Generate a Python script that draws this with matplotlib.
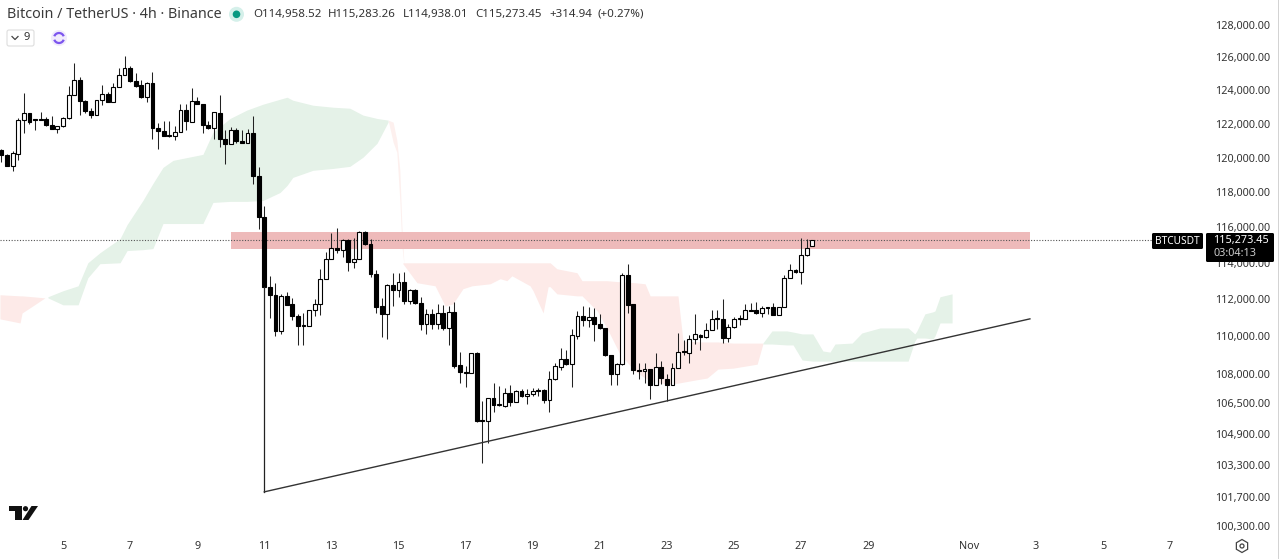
import matplotlib
matplotlib.use('Agg')
import matplotlib.pyplot as plt
from matplotlib.patches import Circle, Polygon, FancyBboxPatch, RegularPolygon, Arc
import numpy as np

plt.rcParams['font.family'] = ['Noto Sans', 'DejaVu Sans']

# 4h candles, first one is Oct 3 ~04:00
opens = [120470,120180,119500,120230,122210,122610,122250,122290,122290,121910,
         121690,121850,122310,123700,124620,123360,122740,122510,123440,123770,
         123300,124170,124900,125360,124560,124300,123600,124410,121750,121570,
         121310,121270,121510,122810,122110,123360,123200,121950,121770,122650,
         121080,120820,121610,120960,120860,121470,118930,116570,112690,112250,
         110290,112190,111750,111100,110560,110560,111430,111750,113130,114240,
         114850,114740,115300,114070,114240,115760,115080,113400,111640,111210,
         112800,112520,112960,111920,112520,111810,110670,111210,110670,111260,
         110450,111320,108470,108100,108050,109110,105590,105540,106740,106370,
         106320,107000,106530,107100,106840,106950,107150,107150,106630,107730,
         108370,108790,108520,110020,111100,110880,111050,110670,110450,109000,
         107990,108520,113350,111750,108210,108150,108260,107420,108370,107730,
         107420,108310,109220,109110,109860,110070,109970,110340,110990,110940,
         109910,110510,110940,110940,111430,111430,111260,111590,111590,111150,
         111590,113180,113630,113510,114460,114958.52]
highs = [120530,120230,120390,122310,123850,122650,122250,122710,122410,122450,
         121850,122370,124250,125670,124780,123400,122910,123440,124310,123910,
         124410,125360,126100,125470,125020,124620,124510,125080,122050,122170,
         122170,121850,123160,123200,124110,123600,123200,122170,122710,123700,
         121610,121810,121770,121630,121710,122480,119450,117180,113290,112900,
         112300,112410,112080,111210,111260,111430,112030,113680,114630,115700,
         115930,115360,115360,115420,115810,115810,115360,113630,112080,112850,
         113460,113460,113510,112580,112580,112140,111480,111480,111750,111700,
         111640,111860,109160,108420,109110,109160,106580,106740,107520,107360,
         107260,107420,107150,107210,107210,107260,107260,107210,108150,108580,
         109380,109270,110400,111370,111640,111590,111530,111210,110450,109000,
         108580,113460,113960,111750,108580,108580,108260,109110,108680,107990,
         108580,110180,109810,110070,111210,110130,110720,111430,111430,112030,
         110670,111050,111150,111750,111810,111860,111640,111590,111810,111590,
         113350,113960,113680,115420,115360,115283.26]
lows = [119740,119500,119200,119840,121450,121970,121630,122210,121850,121670,
        121450,121810,122250,123700,122510,122640,122310,122510,123100,123300,
        123300,124170,124900,124510,124170,123560,123300,121120,120530,121250,
        121210,121020,121510,121630,122110,123200,121470,121710,121120,120620,
        119640,120820,120860,120860,120860,118440,115910,112690,110990,110020,
        110130,111700,110880,109540,109540,110560,111100,111150,113130,114240,
        114570,114350,113570,113740,114240,115020,113240,111260,109970,109860,
        111640,112140,111750,111750,111750,110340,110130,110400,110400,110340,
        109540,108310,107520,107310,108050,105490,103400,104420,106010,106320,
        106270,106320,106530,106790,106420,106840,106840,106480,106010,107680,
        108210,108470,107310,109860,110560,110510,109750,110400,108950,107420,
        107420,108470,111260,107990,107730,107520,106680,107420,107470,106580,
        107420,108310,109000,108580,109590,109270,109910,110340,110400,109640,
        109700,110450,110610,110940,111370,111210,111050,111210,111150,111150,
        111590,113180,113460,112850,114410,114938.01]
closes = [120130,119500,120270,122210,122610,122110,122190,122210,121910,121670,
          121850,122310,123700,124620,123360,122740,122510,123440,123750,123300,
          124170,124900,125360,124560,124250,123600,124410,121750,121570,121250,
          121250,121510,122810,122150,123360,123200,121950,121770,122670,121080,
          120820,121610,120960,120860,121470,118930,116570,112690,112250,110290,
          112190,111700,111100,110560,110610,111430,111750,113130,114240,114850,
          114740,115300,114070,114240,115760,115080,113400,111590,111210,112800,
          112520,112960,111920,112520,111810,110670,111210,110670,111260,110450,
          111320,108420,108100,108050,109110,105540,105540,106740,106370,106420,
          107000,106530,107100,106840,106950,107100,107100,106630,107730,108420,
          108790,108520,110070,111100,110880,111050,110670,110450,109000,107990,
          108520,113350,111700,108210,108150,108260,107420,108370,107790,107420,
          108310,109160,109160,109860,110130,109970,110340,110940,110940,109910,
          110510,110940,110990,111430,111370,111260,111530,111530,111150,111590,
          113180,113630,113510,114460,114850,115273.45]
first_day = 11 - 47 / 6.0   # bar 47 opens Oct 11 00:00
last_price = 115273.45

# ichimoku cloud pieces, x in October days
red1_x = [3.12,3.72,3.78,4.10,4.46]
red1_top = [112250,112190,112190,112140,112080]
red1_bot = [110940,110720,111260,111640,112080]

green1_x = [4.55,5.00,5.45,5.74,6.10,6.70,6.91,7.38,7.68,7.98,8.28,9.17,9.47,9.98,
            10.48,10.96,11.47,11.68,11.85,12.45,13.05,13.55,13.94,14.36,14.69]
green1_top = [112140,112470,112740,114010,114570,115360,116150,117520,118500,119430,119840,120190,121490,122310,
              122810,123160,123460,123580,123400,123100,122980,122920,122510,122310,122210]
green1_bot = [112080,111700,111700,113180,113960,114010,114690,114740,114800,116210,116210,116210,117410,117470,
              117470,117520,117980,118390,118850,119260,119370,119490,120020,120840,122090]

sliver_x = [14.69,14.84,14.95,15.04,15.10,15.16]
sliver_top = [122210,122090,121020,119260,116090,114010]
sliver_bot = [122210,120900,120310,117520,114970,113960]

red2_x = [15.13,15.55,16.09,16.39,16.62,16.92,17.19,17.73,18.03,18.23,18.38,18.92,19.01,19.31,19.46,19.52,19.72,
          20.32,20.47,20.92,21.21,21.60,22.05,22.35,22.50,23.03,23.33,23.48,23.99,24.20,24.52,24.97,25.69,25.86]
red2_top = [114010,114010,114010,114010,114010,114010,114010,114010,114010,114010,114010,114010,114010,114010,114010,114010,113680,
            113460,113020,113020,113020,112960,112910,112850,112190,112190,112190,109750,109700,109700,109700,109640,109640,109640]
red2_bot = [113960,112910,112740,111640,111750,112580,112740,112850,113130,113020,113290,112740,112470,111260,112690,112690,112300,
            112190,112190,111370,110450,109050,108150,107790,107630,107470,107520,107570,107730,107790,108260,108310,108520,109590]

green2_x = [25.86,26.13,26.58,26.76,27.03,27.35,27.65,27.86,28.01,28.52,28.81,29.35,30.19,30.39,30.45,30.69,30.93,30.99,31.14,31.50]
green2_top = [109640,110290,110290,110230,110130,110130,109220,109160,109590,109640,110180,110450,110450,110130,110290,111210,111320,111370,112140,112300]
green2_bot = [109590,109590,109540,109540,108740,108680,108680,108680,108680,108680,108680,108680,108680,109750,109910,109910,109860,110020,110720,110720]

# resistance zone and the drawn lines
zone_days = [10.01, 33.82]
zone_low, zone_high = 114800, 115750
drop_x = [11.0, 11.0]
drop_y = [112690, 101980]
trend_x = [11.0, 33.82]
trend_y = [101980, 110940]

price_ticks = [128000,126000,124000,122000,120000,118000,116000,114000,112000,110000,108000,106500,104900,103300,101700,100300]
day_ticks = [5,7,9,11,13,15,17,19,21,23,25,27,29,32,34,36,38]
day_labels = ['5','7','9','11','13','15','17','19','21','23','25','27','29','Nov','3','5','7']

W, H = 1279, 559
fig = plt.figure(figsize=(W/100.0, H/100.0), dpi=100)
ax = fig.add_axes([0, 24.0/H, 1210.0/W, 535.0/H])
ax.set_yscale('log')
ax.set_xlim(3.122, 3.122 + 1210/33.55)
ax.set_ylim(99860, 129570)
for s in ax.spines.values():
    s.set_visible(False)

ax.fill_between(red1_x, red1_bot, red1_top, color='#fdeae8', lw=0, zorder=1)
ax.fill_between(green1_x, green1_bot, green1_top, color='#e5f2e8', lw=0, zorder=1)
ax.fill_between(sliver_x, sliver_bot, sliver_top, color='#fdf0ee', lw=0, zorder=1)
ax.fill_between(red2_x, red2_bot, red2_top, color='#fdeae8', lw=0, zorder=1)
ax.fill_between(green2_x, green2_bot, green2_top, color='#e5f2e8', lw=0, zorder=1)
ax.fill_between(zone_days, zone_low, zone_high, color='#eebaba', lw=0, zorder=2)

ax.hlines(last_price, 3.122, 37.45, color='#555555', lw=0.8, linestyles=(0, (1, 1.5)), zorder=3)

days = first_day + np.arange(len(opens)) / 6.0
o = np.array(opens)
c = np.array(closes)
up = c >= o
ax.vlines(days, lows, highs, color='#222222', lw=0.75, zorder=4)
ax.bar(days, np.abs(c - o), bottom=np.minimum(o, c), width=0.115,
       color=['white' if u else 'black' for u in up], edgecolor='black', lw=0.8, zorder=5)

ax.plot(drop_x, drop_y, color='#222222', lw=0.9, zorder=6)
ax.plot(trend_x, trend_y, color='#333333', lw=1.0, zorder=6)

ax.yaxis.tick_right()
ax.set_yticks(price_ticks)
ax.set_yticklabels(['{:,.2f}'.format(p) for p in price_ticks])
ax.minorticks_off()
ax.set_xticks(day_ticks)
ax.set_xticklabels(day_labels)
ax.tick_params(axis='y', length=0, pad=4, labelsize=7.8, labelcolor='#333333')
ax.tick_params(axis='x', length=0, pad=4, labelsize=7.8, labelcolor='#333333')

# overlay in pixels for the TradingView furniture
ov = fig.add_axes([0, 0, 1, 1])
ov.set_xlim(0, W)
ov.set_ylim(H, 0)
ov.axis('off')
ov.patch.set_alpha(0)

ov.text(7, 14, 'Bitcoin / TetherUS · 4h · Binance', fontsize=10.3, color='#3a3a3a', va='center')
ov.add_patch(Circle((236.5, 14.3), 7.5, color='#d5f0ea', lw=0))
ov.add_patch(Circle((236.5, 14.3), 3.8, color='#089981', lw=0))
for x, s in [(253, 'O114,958.52'), (328, 'H115,283.26'), (402.5, 'L114,938.01'),
             (475, 'C115,273.45'), (549, '+314.94'), (597, '(+0.27%)')]:
    ov.text(x, 14.5, s, fontsize=8.3, color='#333333', va='center')

ov.add_patch(FancyBboxPatch((7, 30), 27, 16, boxstyle='round,pad=0,rounding_size=2',
                            fc='white', ec='#dddddd', lw=0.8))
ov.plot([12, 15, 18], [36.5, 39.5, 36.5], color='#444444', lw=0.9)
ov.text(27, 38, '9', fontsize=8, color='#333333', ha='center', va='center')
ov.add_patch(Circle((59, 38), 8, color='#f1ebfc', lw=0))
ov.add_patch(Arc((59, 38), 10, 10, theta1=20, theta2=160, ec='#7c55ee', lw=1.6))
ov.add_patch(Arc((59, 38), 10, 10, theta1=200, theta2=340, ec='#7c55ee', lw=1.6))

# price tag and countdown
ov.add_patch(FancyBboxPatch((1152, 233), 51, 16, boxstyle='round,pad=0,rounding_size=1.5', fc='black', ec='none'))
ov.text(1177.5, 241, 'BTCUSDT', fontsize=7.3, color='white', ha='center', va='center', fontweight='bold')
ov.add_patch(FancyBboxPatch((1206, 233), 68, 29, boxstyle='round,pad=0,rounding_size=1.5', fc='black', ec='none'))
ov.text(1213, 240.5, '115,273.45', fontsize=7.8, color='white', va='center', fontweight='medium')
ov.text(1213, 254, '03:04:13', fontsize=7.8, color='#cccccc', va='center')

# TV logo
ov.add_patch(Polygon([(9, 506), (22, 506), (22, 520), (15, 520), (15, 511), (9, 511)], color='#111111', lw=0))
ov.add_patch(Circle((25.5, 508.7), 2.6, color='#111111', lw=0))
ov.add_patch(Polygon([(31.5, 506), (38, 506), (28.5, 520), (22.5, 520)], color='#111111', lw=0))

# settings gear
ov.add_patch(RegularPolygon((1242, 546), 6, radius=6.5, fc='none', ec='#444444', lw=0.9))
ov.add_patch(Circle((1242, 546), 2, fc='none', ec='#444444', lw=0.9))

ov.plot([1278.5, 1278.5], [0, H], color='#222222', lw=1)

fig.savefig('out.png', dpi=100)
